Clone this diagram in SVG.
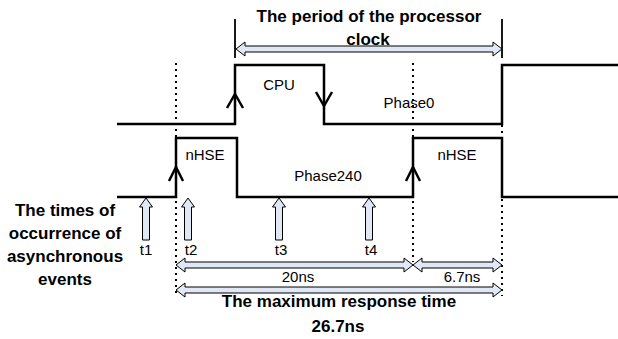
<svg xmlns="http://www.w3.org/2000/svg" width="618" height="339" viewBox="0 0 618 339">
<style>
.wave{fill:none;stroke:#000;stroke-width:2.5;stroke-linejoin:miter}
.chev{fill:none;stroke:#000;stroke-width:2.5}
.dot{fill:none;stroke:#000;stroke-width:2;stroke-dasharray:2 4}
.bar{fill:none;stroke:#000;stroke-width:1.8}
.blk{fill:#dfe8f4;stroke:#000;stroke-width:1}
.t{font-family:"Liberation Sans",Arial,sans-serif;font-size:15px;fill:#000;text-anchor:middle}
.b{font-family:"Liberation Sans",Arial,sans-serif;font-size:17px;font-weight:bold;fill:#000;text-anchor:middle}
</style>
<rect width="618" height="339" fill="#fff"/>
<g id="guides">
<path class="dot" d="M176,63V296"/>
<path class="dot" d="M413,63V262"/>
<path class="dot" d="M502,125V137M502,199V296"/>
<path class="bar" d="M235,19V58M502,19V58"/>
</g>
<g id="cpu-wave">
<path class="wave" d="M117,124H235V65H324V124H502V65H618"/>
<path class="chev" d="M227,108L235,94L243,108"/>
<path class="chev" d="M316,92L324,106L332,92"/>
<text class="t" x="279" y="90">CPU</text>
<text class="t" x="409" y="108">Phase0</text>
</g>
<g id="nhse-wave">
<path class="wave" d="M117,197H176V138H237V197H413V138H502V197H618"/>
<path class="chev" d="M169,181L176,167L183,181"/>
<path class="chev" d="M406,181L413,167L420,181"/>
<text class="t" x="205" y="160">nHSE</text>
<text class="t" x="457" y="160">nHSE</text>
<text class="t" x="328" y="181">Phase240</text>
</g>
<g id="connectors">
<path class="blk" d="M236,49L245,42L245,46L493,46L493,42L502,49L493,56L493,52L245,52L245,56Z"/>
<path class="blk" d="M176,265L185,258L185,262L404,262L404,258L413,265L404,272L404,268L185,268L185,272Z"/>
<path class="blk" d="M413,265L422,258L422,262L493,262L493,258L502,265L493,272L493,268L422,268L422,272Z"/>
<path class="blk" d="M176,290L185,283L185,287L493,287L493,283L502,290L493,297L493,293L185,293L185,297Z"/>
</g>
<g id="events">
<path class="blk" d="M146,198L152.5,207L149.5,207L149.5,240L142.5,240L142.5,207L139.5,207Z"/>
<path class="blk" d="M188,198L194.5,207L191.5,207L191.5,240L184.5,240L184.5,207L181.5,207Z"/>
<path class="blk" d="M279,198L285.5,207L282.5,207L282.5,240L275.5,240L275.5,207L272.5,207Z"/>
<path class="blk" d="M369,198L375.5,207L372.5,207L372.5,240L365.5,240L365.5,207L362.5,207Z"/>
<text class="t" x="146" y="255">t1</text>
<text class="t" x="191" y="255">t2</text>
<text class="t" x="281" y="255">t3</text>
<text class="t" x="371" y="255">t4</text>
</g>
<g id="labels">
<text class="b" x="369" y="22">The period of the processor</text>
<text class="b" x="368" y="45">clock</text>
<text class="b" x="65" y="216">The times of</text>
<text class="b" x="65" y="239">occurrence of</text>
<text class="b" x="65" y="262">asynchronous</text>
<text class="b" x="65" y="285">events</text>
<text class="t" x="298" y="282">20ns</text>
<text class="t" x="462" y="282">6.7ns</text>
<text class="b" x="339" y="307">The maximum response time</text>
<text class="b" x="338" y="332">26.7ns</text>
</g>
</svg>
